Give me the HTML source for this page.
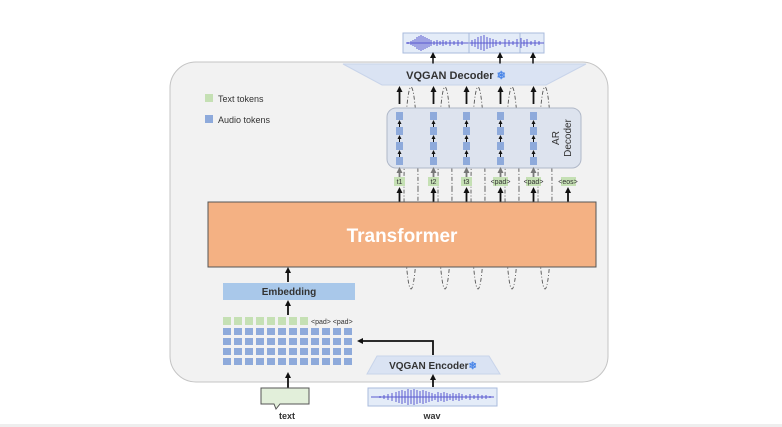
<!DOCTYPE html>
<html><head><meta charset="utf-8"><style>
html,body{margin:0;padding:0;background:#fff;}
svg{display:block;font-family:"Liberation Sans",sans-serif;}
</style></head><body>
<svg width="782" height="427" viewBox="0 0 782 427" xmlns="http://www.w3.org/2000/svg">
<defs>
<marker id="a" markerUnits="userSpaceOnUse" markerWidth="6" markerHeight="6" refX="4" refY="3" orient="auto"><path d="M0,0 L6,3 L0,6 z" fill="#111"/></marker>
<marker id="s" markerUnits="userSpaceOnUse" markerWidth="4" markerHeight="4" refX="3" refY="2" orient="auto"><path d="M0,0 L4,2 L0,4 z" fill="#111"/></marker>
<marker id="g" markerUnits="userSpaceOnUse" markerWidth="6" markerHeight="6" refX="4" refY="3" orient="auto"><path d="M0,0 L6,3 L0,6 z" fill="#777"/></marker>
</defs>
<rect x="0" y="424" width="782" height="3" fill="#eee"/>
<rect x="170" y="62" width="438" height="320" rx="26" fill="#f2f2f2" stroke="#c4c4c4"/>
<!-- top waveform -->
<rect x="403" y="33" width="141" height="20" fill="#e4ecf8" stroke="#aabbdd"/>
<g stroke="#5a5ad0" stroke-width="1">
<path d="M406,43 L544,43"/>
<path d="M408,42v2M411,41v4M413,40v6M415,39v8M417,37v12M419,36v14M421,35v16M423,36v14M425,37v12M427,38v10M429,39v8M431,40v6M434,41v4M437,40v6M440,41v4M443,40v6M446,41v4M450,40v6M454,41v4M458,40v6M462,41v4M472,40v6M475,39v8M478,37v12M481,36v14M484,35v16M487,37v12M490,38v10M493,39v8M496,40v6M500,41v4M505,39v8M509,40v6M513,41v4M517,39v8M521,38v10M524,40v6M527,39v8M531,41v4M535,40v6M539,41v4"/>
</g>
<line x1="469" y1="33" x2="469" y2="53" stroke="#aabbdd"/><line x1="520" y1="33" x2="520" y2="53" stroke="#aabbdd"/>
<g stroke="#111" stroke-width="1.5" marker-end="url(#a)">
<line x1="433" y1="64" x2="433" y2="54"/><line x1="500" y1="64" x2="500" y2="54"/><line x1="533" y1="64" x2="533" y2="54"/>
</g>
<!-- dashed loops -->
<g fill="none" stroke="#555" stroke-width="0.9" stroke-dasharray="4,2,1,2">
<ellipse cx="411" cy="188" rx="7" ry="101"/>
<ellipse cx="445" cy="188" rx="7" ry="101"/>
<ellipse cx="478" cy="188" rx="7" ry="101"/>
<ellipse cx="512" cy="188" rx="7" ry="101"/>
<ellipse cx="545" cy="188" rx="7" ry="101"/>
</g>
<!-- VQGAN decoder -->
<polygon points="343,64 586,64 546,85 382,85" fill="#dae3f3" stroke="#c8d4ea"/>
<text x="456" y="79" font-size="11" font-weight="bold" fill="#333" text-anchor="middle">VQGAN Decoder <tspan fill="#4a86e8">❄</tspan></text>
<!-- AR decoder box -->
<rect x="387" y="108" width="194" height="60" rx="9" fill="#dde3ee" stroke="#b0b8c8"/>
<text transform="translate(562,138) rotate(-90)" font-size="10" fill="#333" text-anchor="middle"><tspan x="0" dy="-3">AR</tspan><tspan x="0" dy="12">Decoder</tspan></text>
<g fill="#8eaadb">
<rect x="396" y="112" width="7" height="8"/><rect x="396" y="127" width="7" height="8"/><rect x="396" y="142" width="7" height="8"/><rect x="396" y="157" width="7" height="8"/>
<rect x="430" y="112" width="7" height="8"/><rect x="430" y="127" width="7" height="8"/><rect x="430" y="142" width="7" height="8"/><rect x="430" y="157" width="7" height="8"/>
<rect x="463" y="112" width="7" height="8"/><rect x="463" y="127" width="7" height="8"/><rect x="463" y="142" width="7" height="8"/><rect x="463" y="157" width="7" height="8"/>
<rect x="497" y="112" width="7" height="8"/><rect x="497" y="127" width="7" height="8"/><rect x="497" y="142" width="7" height="8"/><rect x="497" y="157" width="7" height="8"/>
<rect x="530" y="112" width="7" height="8"/><rect x="530" y="127" width="7" height="8"/><rect x="530" y="142" width="7" height="8"/><rect x="530" y="157" width="7" height="8"/>
</g>
<g stroke="#111" stroke-width="1" marker-end="url(#s)">
<line x1="399.5" y1="127" x2="399.5" y2="121"/><line x1="399.5" y1="142" x2="399.5" y2="136"/><line x1="399.5" y1="157" x2="399.5" y2="151"/>
<line x1="433.5" y1="127" x2="433.5" y2="121"/><line x1="433.5" y1="142" x2="433.5" y2="136"/><line x1="433.5" y1="157" x2="433.5" y2="151"/>
<line x1="466.5" y1="127" x2="466.5" y2="121"/><line x1="466.5" y1="142" x2="466.5" y2="136"/><line x1="466.5" y1="157" x2="466.5" y2="151"/>
<line x1="500.5" y1="127" x2="500.5" y2="121"/><line x1="500.5" y1="142" x2="500.5" y2="136"/><line x1="500.5" y1="157" x2="500.5" y2="151"/>
<line x1="533.5" y1="127" x2="533.5" y2="121"/><line x1="533.5" y1="142" x2="533.5" y2="136"/><line x1="533.5" y1="157" x2="533.5" y2="151"/>
</g>
<g stroke="#111" stroke-width="1.8" marker-end="url(#a)">
<line x1="399.5" y1="104" x2="399.5" y2="88"/><line x1="433.5" y1="104" x2="433.5" y2="88"/><line x1="466.5" y1="104" x2="466.5" y2="88"/><line x1="500.5" y1="104" x2="500.5" y2="88"/><line x1="533.5" y1="104" x2="533.5" y2="88"/>
</g>
<g stroke="#777" stroke-width="1.8" marker-end="url(#g)">
<line x1="399.5" y1="177" x2="399.5" y2="169"/><line x1="433.5" y1="177" x2="433.5" y2="169"/><line x1="466.5" y1="177" x2="466.5" y2="169"/><line x1="500.5" y1="177" x2="500.5" y2="169"/><line x1="533.5" y1="177" x2="533.5" y2="169"/>
</g>
<g font-size="7" fill="#333" text-anchor="middle">
<rect x="394" y="177" width="11" height="9" fill="#c5e0b4"/><text x="399.5" y="184">t1</text>
<rect x="428" y="177" width="11" height="9" fill="#c5e0b4"/><text x="433.5" y="184">t2</text>
<rect x="461" y="177" width="11" height="9" fill="#c5e0b4"/><text x="466.5" y="184">t3</text>
<rect x="493" y="177" width="15" height="9" fill="#c5e0b4"/><text x="500.5" y="184">&lt;pad&gt;</text>
<rect x="526" y="177" width="15" height="9" fill="#c5e0b4"/><text x="533.5" y="184">&lt;pad&gt;</text>
<rect x="561" y="177" width="15" height="9" fill="#c5e0b4"/><text x="568" y="184">&lt;eos&gt;</text>
</g>
<g stroke="#111" stroke-width="1.8" marker-end="url(#a)">
<line x1="399.5" y1="202" x2="399.5" y2="189"/><line x1="433.5" y1="202" x2="433.5" y2="189"/><line x1="466.5" y1="202" x2="466.5" y2="189"/><line x1="500.5" y1="202" x2="500.5" y2="189"/><line x1="533.5" y1="202" x2="533.5" y2="189"/><line x1="568" y1="202" x2="568" y2="189"/>
</g>
<!-- Transformer -->
<rect x="208" y="202" width="388" height="65" fill="#f4b183" stroke="#555"/>
<text x="402" y="242" font-size="19" font-weight="bold" fill="#fff" text-anchor="middle">Transformer</text>
<!-- legend -->
<rect x="205" y="94" width="8" height="8" fill="#c5e0b4"/><text x="218" y="102" font-size="9" fill="#333">Text tokens</text>
<rect x="205" y="115" width="8" height="8" fill="#8eaadb"/><text x="218" y="123" font-size="9" fill="#333">Audio tokens</text>
<!-- Embedding -->
<rect x="223" y="283" width="132" height="17" fill="#a9c8ea"/>
<text x="289" y="295" font-size="10" font-weight="bold" fill="#333" text-anchor="middle">Embedding</text>
<line x1="288" y1="282" x2="288" y2="269" stroke="#111" stroke-width="1.8" marker-end="url(#a)"/>
<line x1="288" y1="315" x2="288" y2="302" stroke="#111" stroke-width="1.8" marker-end="url(#a)"/>
<g fill="#c5e0b4">
<rect x="223" y="317" width="8" height="8"/><rect x="234" y="317" width="8" height="8"/><rect x="245" y="317" width="8" height="8"/><rect x="256" y="317" width="8" height="8"/><rect x="267" y="317" width="8" height="8"/><rect x="278" y="317" width="8" height="8"/><rect x="289" y="317" width="8" height="8"/><rect x="300" y="317" width="8" height="8"/>
</g>
<text x="311" y="324" font-size="7" fill="#333">&lt;pad&gt; &lt;pad&gt;</text>
<g fill="#8eaadb" id="grid">
<rect x="223" y="328" width="8" height="7"/><rect x="234" y="328" width="8" height="7"/><rect x="245" y="328" width="8" height="7"/><rect x="256" y="328" width="8" height="7"/><rect x="267" y="328" width="8" height="7"/><rect x="278" y="328" width="8" height="7"/><rect x="289" y="328" width="8" height="7"/><rect x="300" y="328" width="8" height="7"/><rect x="311" y="328" width="8" height="7"/><rect x="322" y="328" width="8" height="7"/><rect x="333" y="328" width="8" height="7"/><rect x="344" y="328" width="8" height="7"/>
</g>
<use href="#grid" y="10"/><use href="#grid" y="20"/><use href="#grid" y="30"/>
<!-- encoder -->
<polygon points="377,356 489,356 500,374 367,374" fill="#dae3f3" stroke="#c8d4ea"/>
<text x="433" y="369" font-size="10" font-weight="bold" fill="#333" text-anchor="middle">VQGAN Encoder<tspan fill="#4a86e8">❄</tspan></text>
<path d="M433,355 L433,341 L359,341" fill="none" stroke="#111" stroke-width="1.8" marker-end="url(#a)"/>
<line x1="433" y1="387" x2="433" y2="376" stroke="#111" stroke-width="1.8" marker-end="url(#a)"/>
<line x1="288" y1="388" x2="288" y2="374" stroke="#111" stroke-width="1.8" marker-end="url(#a)"/>
<path d="M261,388 H309 V404 H280 L276,409 L274,404 H261 Z" fill="#e2efda" stroke="#555"/>
<text x="287" y="419" font-size="9" font-weight="bold" fill="#333" text-anchor="middle">text</text>
<rect x="368" y="388" width="129" height="18" fill="#e4ecf8" stroke="#aabbdd"/>
<g stroke="#5a5ad0" stroke-width="1">
<path d="M371,397 L494,397"/>
<path d="M380,396v2M384,395v4M388,394v6M392,393v8M396,392v10M399,391v12M402,390v14M405,391v12M408,389v16M411,390v14M414,389v16M417,390v14M420,391v12M423,390v14M426,391v12M429,392v10M432,393v8M435,394v6M438,392v10M441,393v8M444,392v10M447,393v8M450,394v6M453,393v8M456,394v6M459,393v8M462,394v6M466,395v4M470,394v6M474,395v4M478,394v6M482,395v4M486,395v4M490,396v2"/>
</g>
<text x="432" y="419" font-size="9" font-weight="bold" fill="#333" text-anchor="middle">wav</text>
</svg>
</body></html>
